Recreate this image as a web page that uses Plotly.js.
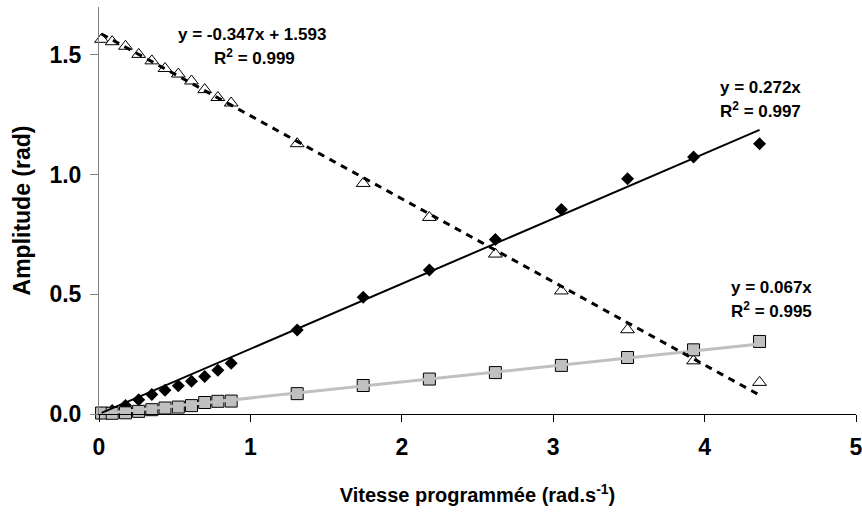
<!DOCTYPE html>
<html>
<head>
<meta charset="utf-8">
<script src="https://cdn.plot.ly/plotly-3.0.1.min.js"></script>
<style>html,body{margin:0;padding:0;background:#fff;}#chart{width:862px;height:513px;}</style>
</head>
<body>
<div id="chart"></div>
<script>
// Programmed speed (rad/s)
var speed = [0.017, 0.087, 0.175, 0.262, 0.349, 0.436, 0.524, 0.611, 0.698, 0.785, 0.873, 1.309, 1.745, 2.182, 2.618, 3.054, 3.491, 3.927, 4.363];
// Series amplitudes (rad)
var triangleAmp = [1.565, 1.555, 1.536, 1.502, 1.475, 1.443, 1.420, 1.391, 1.355, 1.322, 1.299, 1.129, 0.963, 0.821, 0.668, 0.514, 0.352, 0.222, 0.132];
var diamondAmp  = [0.004, 0.015, 0.035, 0.060, 0.081, 0.099, 0.118, 0.137, 0.157, 0.183, 0.212, 0.351, 0.488, 0.601, 0.729, 0.854, 0.983, 1.073, 1.129];
var squareAmp   = [0.004, 0.003, 0.005, 0.011, 0.018, 0.025, 0.029, 0.035, 0.048, 0.053, 0.054, 0.085, 0.119, 0.146, 0.173, 0.203, 0.236, 0.268, 0.303];
// Trendline coefficients: [diamond, square, triangle]
var slopes = [0.272, 0.067, -0.347];
var intercepts = [0, 0, 1.593];
var eqLabels = ['y = 0.272x', 'y = 0.067x', 'y = -0.347x + 1.593'];
var r2Labels = ['R<sup>2</sup> = 0.997', 'R<sup>2</sup> = 0.995', 'R<sup>2</sup> = 0.999'];
var xTicks = [0, 1, 2, 3, 4, 5];
var yTicks = [0.0, 0.5, 1.0, 1.5];

var FONT = 'Arial, "Liberation Sans", sans-serif';
function fitLine(i) {
  var x0 = speed[0], x1 = speed[speed.length - 1];
  return {x: [x0, x1], y: [slopes[i] * x0 + intercepts[i], slopes[i] * x1 + intercepts[i]]};
}
var fD = fitLine(0), fS = fitLine(1), fT = fitLine(2);

var traces = [
  {x: speed, y: triangleAmp, mode: 'markers', type: 'scatter', cliponaxis: false,
   marker: {symbol: 'triangle-up', size: 12, color: '#ffffff', line: {color: '#000000', width: 1}}},
  {x: speed, y: diamondAmp, mode: 'markers', type: 'scatter', cliponaxis: false,
   marker: {symbol: 'diamond', size: 10, color: '#000000', line: {width: 0}}},
  {x: speed, y: squareAmp, mode: 'markers', type: 'scatter', cliponaxis: false,
   marker: {symbol: 'square', size: 12, color: '#c0c0c0', line: {color: '#000000', width: 1}}},
  {x: fS.x, y: fS.y, mode: 'lines', type: 'scatter', cliponaxis: false, line: {color: '#c0c0c0', width: 3}},
  {x: fD.x, y: fD.y, mode: 'lines', type: 'scatter', cliponaxis: false, line: {color: '#000000', width: 2}},
  {x: fT.x, y: fT.y, mode: 'lines', type: 'scatter', cliponaxis: false, line: {color: '#000000', width: 3, dash: '7px,6px'}}
];

var annFont = {family: FONT, size: 17, color: '#000', weight: 700};
function ann(text, x, y) {
  return {text: text, x: x, y: y, xref: 'x', yref: 'y', showarrow: false, font: annFont, xanchor: 'center', yanchor: 'middle'};
}

var layout = {
  width: 862, height: 513,
  margin: {l: 99, r: 6, t: 7, b: 99},
  paper_bgcolor: '#ffffff', plot_bgcolor: '#ffffff',
  showlegend: false,
  font: {family: FONT, color: '#000'},
  xaxis: {
    range: [0, 5], tickvals: xTicks, ticktext: xTicks.map(String),
    showgrid: false, zeroline: false, showline: true, linecolor: '#000000', linewidth: 1,
    ticks: 'outside', ticklen: 7, tickcolor: '#000000', tickwidth: 1, ticklabelstandoff: 5,
    ticklabeloverflow: 'allow',
    tickfont: {family: FONT, size: 23, color: '#000', weight: 700},
    title: {text: 'Vitesse programmée (rad.s<sup>-1</sup>)', font: {family: FONT, size: 20, color: '#000', weight: 700}, standoff: 29}
  },
  yaxis: {
    range: [0, 1.7], tickvals: yTicks, ticktext: yTicks.map(function (v) { return v.toFixed(1); }),
    showgrid: false, zeroline: false, showline: true, linecolor: '#808080', linewidth: 1,
    ticks: 'outside', ticklen: 8, tickcolor: '#808080', tickwidth: 1, ticklabelstandoff: 4,
    tickfont: {family: FONT, size: 23, color: '#000', weight: 700},
    title: {text: 'Amplitude (rad)', font: {family: FONT, size: 23, color: '#000', weight: 700}, standoff: 12}
  },
  annotations: [
    ann(eqLabels[2], 1.01, 1.585), ann(r2Labels[2], 1.03, 1.492),
    ann(eqLabels[0], 4.37, 1.365), ann(r2Labels[0], 4.37, 1.268),
    ann(eqLabels[1], 4.44, 0.528), ann(r2Labels[1], 4.44, 0.433)
  ]
};

Plotly.newPlot('chart', traces, layout, {displayModeBar: false, staticPlot: true});
</script>
</body>
</html>
